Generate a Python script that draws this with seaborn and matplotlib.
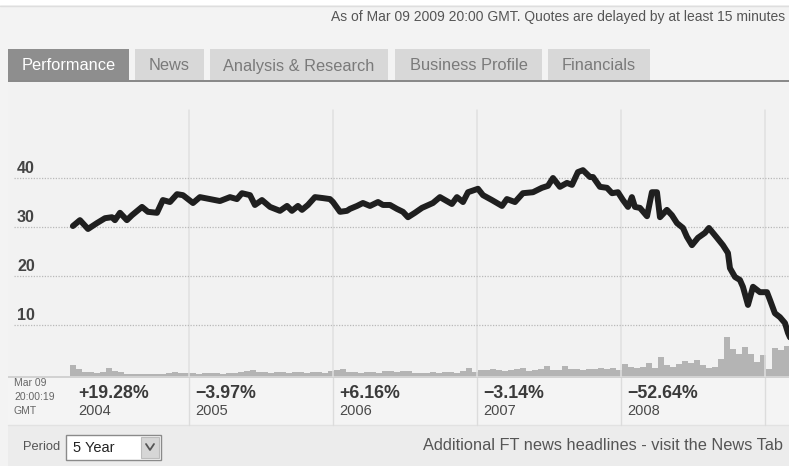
import numpy as np
import matplotlib
matplotlib.use("Agg")
import matplotlib.pyplot as plt
import seaborn as sns
from matplotlib.patches import Rectangle

sns.set_theme(style="white")
plt.rcParams["font.family"] = ["Liberation Sans", "DejaVu Sans"]

# ---------------- data ----------------
price_t = [2004.194, 2004.243, 2004.299, 2004.361, 2004.417, 2004.465, 2004.486, 2004.521,
           2004.569, 2004.604, 2004.674, 2004.715, 2004.778, 2004.819, 2004.868, 2004.917,
           2004.958, 2005.028, 2005.076, 2005.146, 2005.215, 2005.285, 2005.333, 2005.368,
           2005.424, 2005.458, 2005.507, 2005.563, 2005.632, 2005.681, 2005.715, 2005.757,
           2005.785, 2005.826, 2005.875, 2005.931, 2005.979, 2006.000, 2006.049, 2006.097,
           2006.118, 2006.167, 2006.208, 2006.257, 2006.313, 2006.347, 2006.396, 2006.444,
           2006.486, 2006.521, 2006.569, 2006.618, 2006.694, 2006.743, 2006.826, 2006.861,
           2006.903, 2006.938, 2007.007, 2007.042, 2007.104, 2007.174, 2007.208, 2007.264,
           2007.319, 2007.389, 2007.451, 2007.493, 2007.528, 2007.576, 2007.625, 2007.660,
           2007.701, 2007.736, 2007.785, 2007.806, 2007.854, 2007.903, 2007.938, 2007.979,
           2008.014, 2008.049, 2008.076, 2008.097, 2008.132, 2008.181, 2008.215, 2008.250,
           2008.271, 2008.319, 2008.354, 2008.389, 2008.431, 2008.458, 2008.493, 2008.535,
           2008.583, 2008.611, 2008.667, 2008.708, 2008.743, 2008.757, 2008.792, 2008.826,
           2008.847, 2008.882, 2008.917, 2008.965, 2009.014, 2009.035, 2009.069, 2009.104,
           2009.139, 2009.160, 2009.181]
price = [30.2, 31.4, 29.6, 30.8, 31.8, 32.0, 31.4, 32.9,
         31.4, 32.4, 34.1, 33.1, 32.9, 35.5, 35.1, 36.7,
         36.5, 34.9, 36.1, 35.7, 35.3, 36.1, 35.7, 36.9,
         36.5, 34.5, 35.5, 34.1, 33.3, 34.3, 33.3, 34.3,
         33.5, 34.5, 36.1, 35.9, 35.7, 35.1, 33.1, 33.3,
         33.7, 34.3, 34.9, 34.3, 35.1, 34.5, 34.5, 33.7,
         33.1, 32.0, 32.9, 33.9, 34.9, 36.1, 34.7, 36.1,
         35.1, 37.1, 37.8, 36.5, 35.5, 34.3, 35.7, 35.1,
         36.9, 37.1, 38.0, 38.4, 40.0, 38.2, 39.0, 38.6,
         41.2, 41.6, 40.2, 40.2, 38.2, 38.0, 36.9, 37.1,
         35.5, 34.1, 36.1, 34.1, 33.9, 32.2, 37.1, 37.1,
         32.0, 33.5, 32.4, 30.8, 29.8, 28.0, 26.3, 27.8,
         28.8, 29.8, 27.8, 26.3, 24.7, 21.6, 19.8, 19.2,
         17.8, 14.1, 17.8, 16.7, 16.7, 15.1, 12.4, 11.6,
         10.4, 8.4, 7.0]

vol_start = 2004.194          # first half-month volume bucket
vol_step = 1 / 24             # half-month buckets
volume = [11, 7, 4, 4, 3, 4, 8, 5, 4, 2.5, 2, 2, 2, 2, 2, 2, 3, 4, 3, 3,
          3, 2.5, 3, 3, 3, 2.5, 3, 3, 4, 5, 6, 4, 4, 3, 4, 4, 3.5, 4, 4, 3,
          4, 4, 3.5, 5, 6, 7, 4, 4, 3.5, 4, 4, 3, 5, 5, 4.5, 5, 5, 3, 3, 3.5,
          4, 3, 4, 4, 3.5, 5, 8, 4, 6, 6, 7, 6, 5, 6, 7, 8, 5, 6, 7, 10,
          6, 6, 10, 7, 7, 6, 7, 7, 8, 7, 8, 6, 12, 9, 8, 9, 13, 8, 19, 11,
          9, 12, 15, 13, 16, 11, 8, 9, 17, 39, 27, 22, 29, 22, 14, 21, 7, 28, 26, 30]

y_ticks = [10, 20, 30, 40]
years = [2004, 2005, 2006, 2007, 2008]
year_returns = ["+19.28%", "\u22123.97%", "+6.16%", "\u22123.14%", "\u221252.64%"]
tabs = ["Performance", "News", "Analysis & Research", "Business Profile", "Financials"]

# ---------------- figure ----------------
W, H = 789, 466
fig = plt.figure(figsize=(W / 100, H / 100), dpi=100)
fig.patch.set_facecolor("#f3f3f3")

# overlay axes in pixel coordinates for page decorations
deco = fig.add_axes([0, 0, 1, 1], zorder=0)
deco.set_xlim(0, W)
deco.set_ylim(H, 0)
deco.axis("off")

# top strip
deco.add_patch(Rectangle((0, 0), W, 5, color="white", lw=0))
deco.plot([0, W], [5.5, 5.5], color="#dedede", lw=1)
deco.text(785, 17, "As of Mar 09 2009 20:00 GMT. Quotes are delayed by at least 15 minutes",
          fontsize=10.0, color="#555555", va="center", ha="right")

# tabs
tab_x = [(8, 129), (135, 204), (210, 388), (395, 542), (548, 650)]
for i, (lab, (x0, x1)) in enumerate(zip(tabs, tab_x)):
    active = i == 0
    deco.add_patch(Rectangle((x0, 49), x1 - x0, 31,
                             color="#8e8e8e" if active else "#d8d8d8", lw=0))
    deco.text((x0 + x1) / 2, 66, lab, fontsize=11.8,
              color="white" if active else "#7a7a7a", ha="center", va="center")
deco.add_patch(Rectangle((8, 79.5), W - 8, 2.5, color="#8a8a8a", lw=0))

# chart background
deco.add_patch(Rectangle((8, 82), W - 8, 295, color="#f2f2f2", lw=0))

# ---------------- main chart ----------------
ax_left, ax_right, ax_top, ax_bot = 14, 789, 83, 377
ax = fig.add_axes([ax_left / W, 1 - ax_bot / H, (ax_right - ax_left) / W,
                   (ax_bot - ax_top) / H], zorder=2)
ax.set_facecolor("none")
xlim = (2003.785, 2009.167)

vol_t = vol_start + np.arange(len(volume)) * vol_step
ax.bar(vol_t, volume, width=vol_step * 0.9, color="#b4b4b4", linewidth=0, align="center")
ax.set_xlim(*xlim)
ax.set_ylim(-1, 293)
ax.axis("off")

axp = ax.twinx()
axp.set_facecolor("none")
axp.set_xlim(*xlim)
axp.set_ylim(-0.61, 59.39)
for v in y_ticks:
    axp.axhline(v, color="#b9b9b9", lw=0.9, ls=(0, (1, 1.2)), zorder=1)
for yr in years[1:] + [2009]:
    axp.axvline(yr, ymin=0, ymax=0.908, color="#e0e0e0", lw=1.1, zorder=0)
sns.lineplot(x=price_t, y=price, ax=axp, color="#1f1f1f", lw=4.3, zorder=3,
             solid_joinstyle="round", solid_capstyle="round")
for v in y_ticks:
    axp.annotate(str(v), xy=(0, v), xycoords=("axes fraction", "data"),
                 xytext=(3, 5), textcoords="offset pixels", fontsize=11.5,
                 fontweight="bold", color="#444444", ha="left", va="baseline")
for s in axp.spines.values():
    s.set_visible(False)
axp.set_xticks([])
axp.set_yticks([])
axp.set_ylabel("")

# bottom line of chart
deco.add_patch(Rectangle((8, 375.5), W - 8, 2.5, color="#d2d2d2", lw=0))

# ---------------- year panel ----------------
deco.add_patch(Rectangle((8, 378), W - 8, 47, color="#f4f4f4", lw=0))
deco.plot([8, W], [425, 425], color="#e2e2e2", lw=1)
fig.canvas.draw()
def data_to_px(xv):
    return axp.transData.transform((xv, 0))[0]
for yr in years[1:] + [2009]:
    xp = data_to_px(yr)
    deco.plot([xp, xp], [378, 425], color="#dcdcdc", lw=1)
deco.text(14, 383, "Mar 09", fontsize=7.5, color="#666666", va="center")
deco.text(14, 397, "20:00:19", fontsize=7.5, color="#666666", va="center")
deco.text(14, 411, "GMT", fontsize=7.5, color="#666666", va="center")
for i, (yr, r) in enumerate(zip(years, year_returns)):
    xp = 78 if i == 0 else data_to_px(yr) + 6
    deco.text(xp, 393, r, fontsize=12.8, fontweight="bold", color="#3a3a3a", va="center")
    deco.text(xp, 411, str(yr), fontsize=10.5, color="#4a4a4a", va="center")

# ---------------- footer ----------------
deco.add_patch(Rectangle((8, 426), W - 8, 40, color="#ececec", lw=0))
deco.text(23, 447, "Period", fontsize=9.3, color="#555555", va="center")
deco.add_patch(Rectangle((66, 435), 95, 25, facecolor="white", edgecolor="#8a8a8a", lw=1))
deco.add_patch(Rectangle((141, 437), 18, 21, facecolor="#d6d6d6", edgecolor="#bcbcbc", lw=0.8))
deco.plot([146, 150, 154], [444, 450, 444], color="#555555", lw=1.3)
deco.text(73, 448, "5 Year", fontsize=10.5, color="#222222", va="center")
deco.text(783, 446, "Additional FT news headlines - visit the News Tab", fontsize=11.8,
          color="#555555", va="center", ha="right")

fig.savefig("out.png", dpi=100, facecolor=fig.get_facecolor())
